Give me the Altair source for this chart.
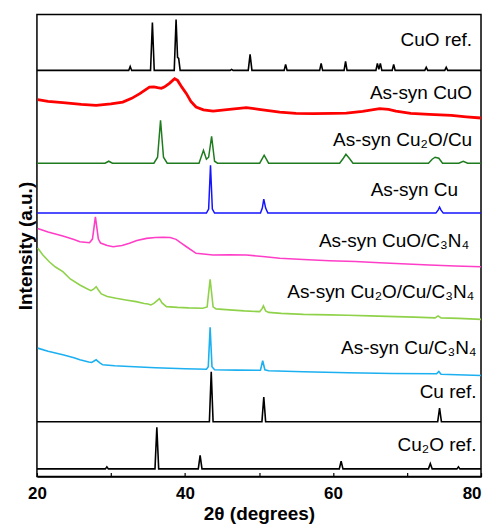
import altair as alt
import pandas as pd

# ---- data (2theta in degrees, intensity in arbitrary offset units) ----
cuo_ref_x = [20, 32.4, 32.6, 32.8, 35.35, 35.6, 35.85, 38.55, 38.8, 39.0, 39.15, 39.35, 46.1, 46.3, 46.5,
             48.55, 48.8, 49.05, 53.4, 53.6, 53.8, 58.2, 58.4, 58.6, 61.5, 61.7, 61.9, 65.8, 66.0, 66.2,
             66.4, 66.6, 68.0, 68.2, 68.4, 72.4, 72.6, 72.8, 75.1, 75.3, 75.5, 80]
cuo_ref_y = [407, 407, 411, 407, 407, 455, 407, 407, 458, 420, 419, 407, 407, 408, 407,
             407, 423, 407, 407, 413, 407, 407, 414, 407, 407, 416, 407, 407, 414, 408,
             414, 407, 407, 413, 407, 407, 410, 407, 407, 410, 407, 407]

cuo_x = [20.1, 21.5, 23.5, 26, 28.0, 30, 31.6, 32.8, 33.9, 35.2, 35.8, 36.3, 36.8, 37.2, 37.9, 38.6, 39.0,
         39.6, 40.2, 40.8, 41.5, 42.5, 43.8, 46, 48.3, 50, 52.8, 55, 57.3, 60, 61.8, 64, 66.3, 67.5,
         68.5, 70.5, 73.0, 76, 78, 80]
cuo_y = [377.7, 376, 374.7, 373, 372, 373.5, 375.3, 379, 383.7, 390.3, 390.5, 389.7, 389, 390.3, 394,
         398.7, 397, 390, 383.7, 376, 370.3, 367.5, 366.3, 368, 369.7, 368, 365.3, 364, 363.7, 364,
         364.3, 366, 368.7, 368, 366.3, 364, 363, 362, 360.5, 359.3]

cu2o_cu_x = [20, 29.2, 29.7, 30.2, 35.8, 36.3, 36.7, 37.1, 37.6, 41.9, 42.5, 42.9, 43.2, 43.6, 44.0, 44.4,
             50.1, 50.7, 51.3, 60.9, 61.4, 61.75, 62.2, 62.7, 72.9, 73.4, 73.8, 74.3, 74.8, 77.0, 77.6,
             78.2, 80]
cu2o_cu_y = [314, 314, 316, 314, 314, 320, 357, 320, 314, 314, 327, 318, 320, 341, 316, 314,
             314, 322, 314, 314, 319, 323, 319, 314, 314, 318, 320, 319, 314, 314, 316,
             314, 314]

cu_x = [20, 42.9, 43.2, 43.45, 43.7, 44.0, 50.2, 50.45, 50.65, 50.9, 51.2, 73.9, 74.2, 74.4, 74.6, 74.9, 80]
cu_y = [264, 264, 268, 312, 268, 264, 264, 269, 278, 269, 264, 264, 267, 270, 267, 264, 264]

cuo_cn_x = [20.1, 21.5, 23.5, 25, 25.8, 27.1, 27.5, 27.9, 28.3, 28.6, 29.5, 30.3, 31.5, 32.5, 33.5, 34.8,
            36, 37.0, 38.0, 38.8, 39.5, 40.2, 41.5, 43.8, 46, 48.3, 50.5, 52.8, 56, 59.5, 63, 66.3, 70,
            73.0, 76.5, 80]
cuo_cn_y = [248.7, 245, 241, 237.5, 235.3, 234.3, 238, 260.3, 238, 234, 231.5, 230.3, 231.5, 233.7,
            236.5, 238.7, 239.5, 239.7, 239.5, 237.7, 234, 230.3, 223.7, 222, 222.3, 222, 220.5, 218.7,
            217.5, 216.3, 215.5, 214.3, 213, 212, 211, 210.3]

cu2o_cu_cn_x = [20.1, 20.8, 21.7, 22.5, 23.5, 24.5, 25.8, 26.7, 27.3, 27.7, 28.0, 28.3, 28.7, 29.5, 30.7,
                32, 33.4, 34.5, 35.0, 35.4, 35.8, 36.2, 36.55, 36.9, 37.5, 39, 40.5, 42.4, 43.0, 43.4,
                43.8, 44.2, 46, 48, 50.1, 50.4, 50.6, 50.9, 51.3, 53, 56, 59.5, 62, 65, 68.5, 71, 73.8,
                74.2, 74.6, 77, 80]
cu2o_cu_cn_y = [229, 222, 215, 210, 205.3, 198, 192, 188.5, 186.3, 188, 190.3, 187, 183, 180.5, 178.7,
                177, 175.3, 173.5, 173, 172, 173.5, 176, 178.3, 174, 170.3, 169.5, 169, 168.7, 170, 197.7,
                170, 168, 167, 166, 165.3, 168, 171, 166, 164.5, 163.5, 162.5, 162, 161.7, 161, 160.3,
                159.8, 159, 161, 159, 158.5, 157.5]

cu_cn_x = [20.1, 21.5, 23.5, 25, 25.8, 27.0, 27.4, 28.0, 28.5, 28.9, 30.5, 32.5, 36, 40, 42.9, 43.15,
           43.4, 43.65, 44.0, 47, 50.2, 50.5, 50.8, 51.3, 56, 62, 68, 74.0, 74.3, 74.6, 80]
cu_cn_y = [128.7, 125.5, 122, 119, 117, 114.8, 114.3, 117, 114, 112, 111, 110.3, 109, 108, 107.5, 110,
           149.7, 110, 107, 106.7, 106.5, 116, 107, 106, 105, 104, 103.3, 103, 105.3, 102.5, 101.3]

cu_ref_x = [20, 43.3, 43.55, 43.8, 50.4, 50.65, 50.9, 74.15, 74.4, 74.65, 80]
cu_ref_y = [55, 55, 105, 55, 55, 79.7, 55, 55, 68.7, 55, 55]

cu2o_ref_x = [20, 29.25, 29.45, 29.65, 35.95, 36.2, 36.45, 41.8, 42.05, 42.3, 60.85, 61.1, 61.35,
              72.9, 73.15, 73.4, 76.75, 76.95, 77.15, 80]
cu2o_ref_y = [7.7, 7.7, 9.7, 7.7, 7.7, 49.3, 7.7, 7.7, 21.3, 7.7, 7.7, 15.3, 7.7,
              7.7, 13, 7.7, 7.7, 9.7, 7.7, 7.7]

label_text = ["CuO ref.", "As-syn CuO", "As-syn Cu₂O/Cu", "As-syn Cu", "As-syn CuO/C₃N₄",
              "As-syn Cu₂O/Cu/C₃N₄", "As-syn Cu/C₃N₄", "Cu ref.", "Cu₂O ref."]
label_x = [78.8, 78.8, 78.8, 76.9, 78.4, 79.1, 79.4, 79.4, 79.4]
label_y = [437, 384, 337, 287, 236, 185, 129, 85, 32]

series = [
    (cuo_ref_x, cuo_ref_y, "#000000", 1.6),
    (cuo_x, cuo_y, "#ff0000", 2.8),
    (cu2o_cu_x, cu2o_cu_y, "#1e7b1e", 1.5),
    (cu_x, cu_y, "#1414ff", 1.5),
    (cuo_cn_x, cuo_cn_y, "#ff3ec8", 1.6),
    (cu2o_cu_cn_x, cu2o_cu_cn_y, "#8fd24a", 1.6),
    (cu_cn_x, cu_cn_y, "#1cb0f0", 1.6),
    (cu_ref_x, cu_ref_y, "#000000", 1.6),
    (cu2o_ref_x, cu2o_ref_y, "#000000", 1.6),
]

FONT = "Liberation Sans"
xscale = alt.Scale(domain=[20, 80], nice=False, zero=False)
yscale = alt.Scale(domain=[0, 463], nice=False, zero=False)
xaxis = alt.Axis(
    title="2θ (degrees)", values=[20, 30, 40, 50, 60, 70, 80],
    labelExpr="datum.value % 20 == 0 ? datum.label : ''",
    labelFlush=False, labelOverlap=False,
    labelAlign={"condition": {"test": "datum.value == 80", "value": "right"}, "value": "center"},
    tickSize=alt.ExprRef(expr="-4"), tickColor="black", tickWidth=1.2,
    domainColor="black", domainWidth=1.5, grid=False,
    labelFont=FONT, labelFontSize=17, labelFontWeight="bold", labelColor="black", labelPadding=13,
    titleFont=FONT, titleFontSize=19, titleFontWeight="bold", titleColor="black", titlePadding=3,
)
yaxis = alt.Axis(
    title="Intensity (a.u.)", labels=False, ticks=False, domain=False, grid=False,
    titleFont=FONT, titleFontSize=19, titleFontWeight="bold", titleColor="black", titlePadding=1,
)

layers = []
for xs, ys, color, w in series:
    df = pd.DataFrame({"x": xs, "y": ys, "i": list(range(len(xs)))})
    layers.append(
        alt.Chart(df).mark_line(color=color, strokeWidth=w, clip=True).encode(
            x=alt.X("x:Q", scale=xscale, axis=xaxis),
            y=alt.Y("y:Q", scale=yscale, axis=yaxis),
            order="i:Q",
        )
    )

labels_df = pd.DataFrame({"t": label_text, "x": label_x, "y": label_y})
labels = alt.Chart(labels_df).mark_text(
    align="right", baseline="middle", font=FONT, fontSize=19, color="black"
).encode(
    x=alt.X("x:Q", scale=xscale, axis=xaxis),
    y=alt.Y("y:Q", scale=yscale, axis=yaxis),
    text="t:N",
)

chart = alt.layer(*layers, labels).properties(
    width=445, height=463,
    autosize=alt.AutoSizeParams(type="none"),
    padding={"left": 29, "top": 6, "right": 4, "bottom": 50},
    background="white",
).configure_view(stroke="black", strokeWidth=1.5)

chart.save("out.html", embed_options={"renderer": "svg", "actions": False})
